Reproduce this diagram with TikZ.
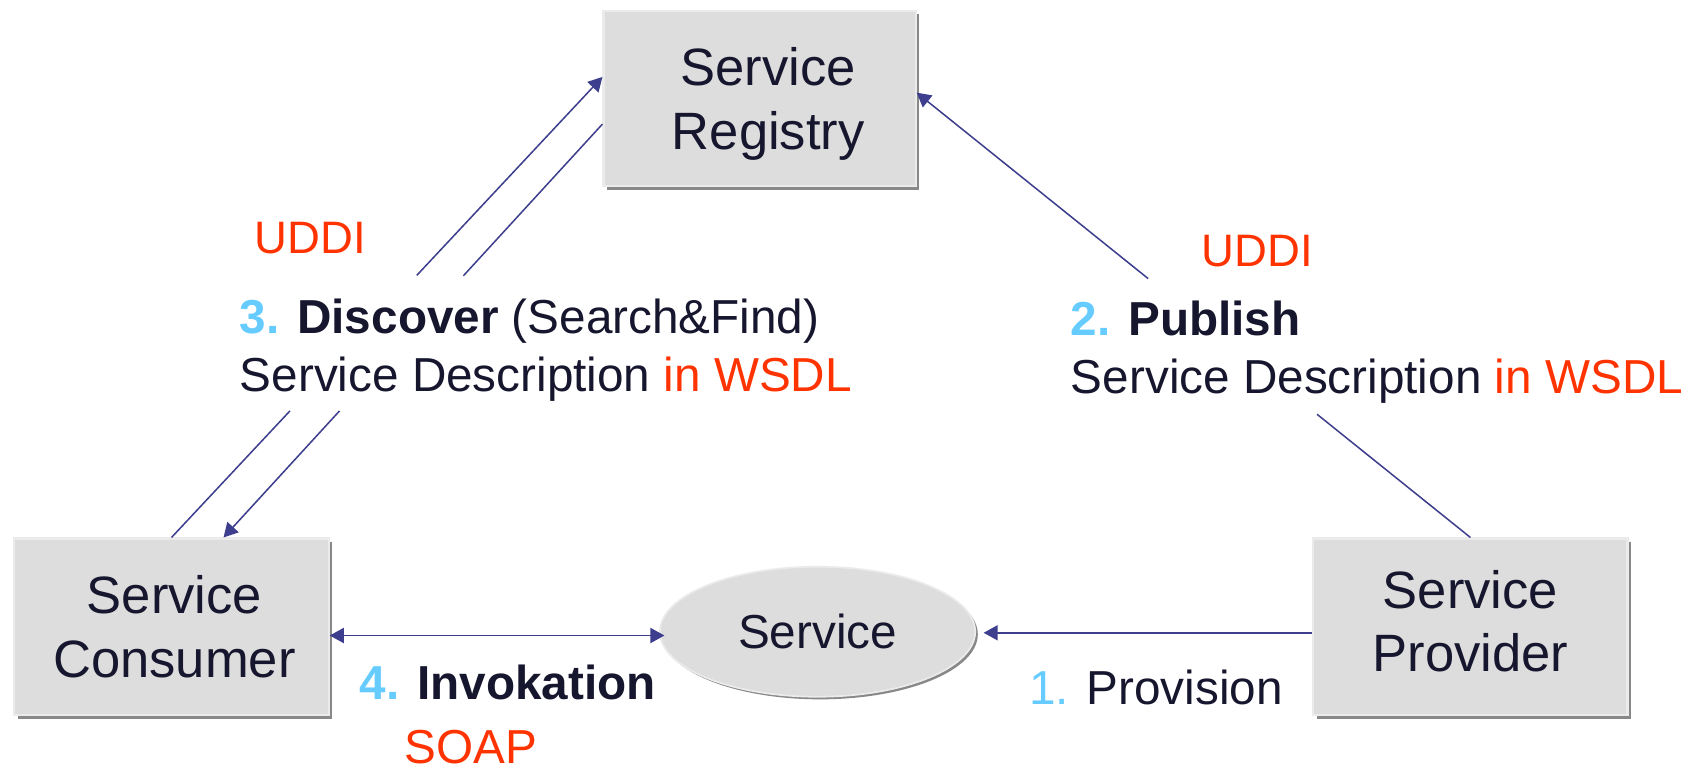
\documentclass[tikz,border=0pt]{standalone}
\usepackage{fontspec}
\setmainfont{Liberation Sans}
\usetikzlibrary{arrows.meta,shapes.geometric,shadows,calc}
\definecolor{boxfill}{HTML}{DDDDDD}
\definecolor{boxedge}{HTML}{EBEBEB}
\definecolor{shade}{HTML}{888888}
\definecolor{ink}{HTML}{16162E}
\definecolor{wirecol}{HTML}{3E3E8E}
\definecolor{stepblue}{HTML}{66CCFF}
\definecolor{proto}{HTML}{FF3300}
\begin{document}
\begin{tikzpicture}[x=0.5pt, y=-0.5pt,
  component/.style={rectangle, fill=boxfill, draw=boxedge, line width=1pt,
    minimum width=145pt, minimum height=81.5pt, inner sep=0pt,
    general shadow={fill=shade, shadow xshift=1.6pt, shadow yshift=-1.6pt}},
  comptext/.style={align=center, text=ink, inner sep=0pt,
    font=\fontsize{24.25}{29.3}\selectfont},
  svcshape/.style={ellipse, fill=boxfill, draw=boxedge, line width=0.8pt,
    minimum width=145.5pt, minimum height=60pt, inner sep=0pt, text=ink,
    font=\fontsize{22}{26}\selectfont,
    general shadow={fill=shade, shadow xshift=1.2pt, shadow yshift=-1.2pt}},
  lbl/.style={anchor=base west, inner sep=0pt, text=ink,
    font=\fontsize{22}{26}\selectfont},
  protolbl/.style={lbl, text=proto},
  wireline/.style={draw=wirecol, line width=0.7pt},
  arrowend/.style={-{Triangle[length=6.5pt, width=7pt]}},
  arrowboth/.style={{Triangle[length=6.5pt, width=7pt]}-{Triangle[length=6.5pt, width=7pt]}}
]
\useasboundingbox (0,0) rectangle (1568,709);

% components
\node[component, minimum width=144pt, minimum height=81pt] (reg) at (701,91) {};
\node[component] (cons) at (158.3,578.5) {};
\node[component] (prov) at (1357,578.5) {};
\node[svcshape] (svc) at (754.5,583) {Service};

\node[comptext] (reg-t) at (709,95.7) {Service\\Registry};
\node[comptext] (cons-t) at (161,578.3) {Service\\Consumer};
\node[comptext] (prov-t) at (1357,573.5) {Service\\Provider};

% anchor points of the connectors
\coordinate (a1) at (cons.north);
\coordinate (a2) at ([yshift=10pt]reg.west);
\coordinate (b1) at ([yshift=-11.75pt]reg.west);
\coordinate (b2) at ([xshift=24pt]cons.north);
\coordinate (c1) at (prov.north);
\coordinate (c2) at ([yshift=2.75pt]reg.east);
\coordinate (inv-l) at ([yshift=-4pt]cons.east);
\coordinate (inv-r) at (inv-l -| svc.west);
\coordinate (pro-l) at ([yshift=-2.75pt]prov.west);
\coordinate (pro-r) at (pro-l -| svc.east);

% discover: consumer -> registry and registry -> consumer (broken by the label)
\draw[wireline] (a1) -- ($(a1)!0.275!(a2)$);
\draw[wireline, arrowend] ($(a1)!0.569!(a2)$) -- (a2);
\draw[wireline] (b1) -- ($(b1)!0.367!(b2)$);
\draw[wireline, arrowend] ($(b1)!0.694!(b2)$) -- (b2);

% publish: provider -> registry
\draw[wireline] (c1) -- ($(c1)!0.277!(c2)$);
\draw[wireline, arrowend] ($(c1)!0.582!(c2)$) -- (c2);

% invocation and provision
\draw[wireline, arrowboth] (inv-l) -- ([xshift=2.5pt]inv-r);
\draw[wireline, arrowend] (pro-l) -- ([xshift=3.5pt]pro-r);

% labels
\node[protolbl, font=\fontsize{21}{25}\selectfont] (uddi-l) at (234.5,233.5) {UDDI};
\node[lbl] (disc-1) at (221,307.5) {\textcolor{stepblue}{\textbf{3.}} \textbf{Discover} (Search\&Find)};
\node[lbl] (disc-2) at (221,361.5) {Service Description \textcolor{proto}{in WSDL}};

\node[protolbl, font=\fontsize{21}{25}\selectfont] (uddi-r) at (1108.5,246) {UDDI};
\node[lbl] (pub-1) at (988,310) {\textcolor{stepblue}{\textbf{2.}} \textbf{Publish}};
\node[lbl] (pub-2) at (988,362.8) {Service Description \textcolor{proto}{in WSDL}};

\node[lbl] (inv) at (331.7,646) {\textcolor{stepblue}{\textbf{4.}} \textbf{Invokation}};
\node[protolbl] (soap) at (373,704.5) {SOAP};
\node[lbl] (provision) at (949.5,650.5) {\textcolor{stepblue}{1.} Provision};
\end{tikzpicture}
\end{document}
